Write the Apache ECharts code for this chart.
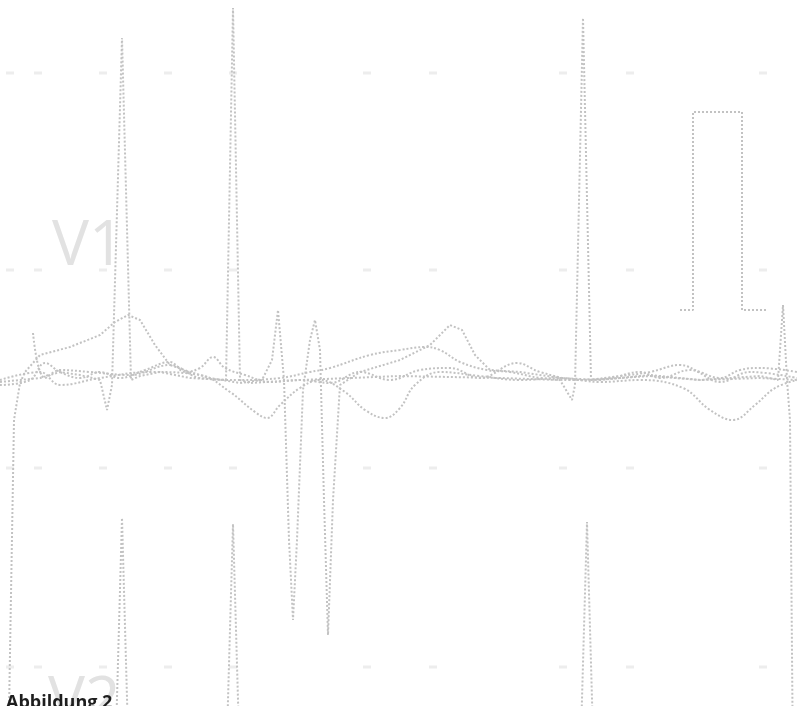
<!DOCTYPE html>
<html>
<head>
<meta charset="utf-8">
<script src="https://cdn.jsdelivr.net/npm/echarts@6/dist/echarts.min.js"></script>
<style>html,body{margin:0;padding:0;background:#fff}#c{width:797px;height:706px}</style>
</head>
<body>
<div id="c"></div>
<script>
// time (samples) vs amplitude (mV)
const leadV1 = [[0,-0.02],[40,0.02],[60,0.08],[80,0.05],[100,0],[107,-0.30],[112,-0.05],[122,3.42],[131,0],[140,0.04],[160,0.08],[190,0.02],[226,0],[233,3.72],[240,0],[250,-0.03],[300,0],[400,0.04],[500,0.02],[560,0],[572,-0.20],[575,-0.05],[583,3.62],[591,0],[650,0.04],[700,0],[760,0.04],[778,0],[783,0.75],[787,0],[790,-0.40],[793,-3.90]];
const calPulse = [[680,0.70],[693,0.70],[693,2.68],[742,2.68],[742,0.70],[768,0.70]];
const leadV2 = [[0,-3.9],[115,-3.9],[122,-1.38],[129,-3.9],[226,-3.9],[233,-1.44],[240,-3.9],[580,-3.9],[587,-1.42],[594,-3.9],[797,-3.9]];
const traceA = [[8,-3.90],[14,-0.40],[20,-0.03],[25,0.08],[40,0.25],[70,0.33],[100,0.45],[115,0.58],[128,0.65],[140,0.60],[155,0.35],[170,0.15],[190,0.08],[210,0.02],[240,-0.03],[262,0],[272,0.20],[278,0.70],[284,0],[289,-1.60],[293,-2.40],[297,-1.60],[303,-0.10],[310,0.40],[315,0.60],[320,0.30],[324,-1.20],[328,-2.55],[333,-1.20],[340,-0.05],[360,0.08],[400,0.20],[430,0.35],[450,0.55],[462,0.50],[475,0.25],[490,0.10],[520,0.08],[560,0.02],[600,0],[650,0.05],[700,0],[760,0.02],[797,0]];
const traceB = [[33,0.47],[45,0.02],[60,0.10],[90,0.08],[130,0.05],[170,0.15],[200,0.02],[240,0],[280,0.02],[310,0.08],[330,0.12],[370,0.25],[400,0.30],[425,0.33],[440,0.30],[460,0.18],[487,0.10],[510,0.08],[540,0.02],[570,0],[610,0.02],[640,0.08],[660,0.02],[690,0.10],[720,-0.02],[750,0.08],[797,0.02]];
const traceC = [[0,0],[40,0.08],[60,-0.05],[100,0.02],[150,0.08],[200,0.05],[230,-0.12],[255,-0.32],[267,-0.38],[280,-0.25],[300,-0.08],[320,0],[345,-0.12],[365,-0.30],[385,-0.38],[400,-0.28],[415,-0.05],[440,0.08],[480,0.04],[520,0],[560,0.02],[600,-0.02],[640,0],[683,-0.08],[710,-0.30],[733,-0.40],[755,-0.25],[775,-0.08],[797,0]];
const traceD = [[0,-0.05],[30,0],[45,0.17],[60,0.08],[80,0.02],[100,0.08],[120,0.02],[145,0.10],[170,0.18],[185,0.08],[200,0.12],[213,0.23],[225,0.12],[245,0.05],[270,-0.02],[300,0],[330,-0.03],[360,0.08],[390,0],[420,0.10],[450,0.12],[480,0.02],[517,0.17],[540,0.08],[580,0],[620,0.04],[650,0.08],[680,0.15],[700,0.08],[720,0.02],[740,0.10],[760,0.12],[797,0.08]];
const markX = [10,38,103,168,233,367,433,563,630,763];
const markY = [3.07,1.10,-0.88,-2.87];
const leadLabels = ['V1','V2'];
const figureTitle = 'Abbildung 2';

const marks = [];
markY.forEach(y => markX.forEach(x => marks.push([x, y])));

const lineStyle = {color:'#c2c2c2', width:2, type:'dotted'};
function line(data, smooth){
  return {type:'line', data, smooth: smooth || false, showSymbol:false, silent:true, lineStyle, clip:true};
}

const chart = echarts.init(document.getElementById('c'), null, {renderer:'canvas'});
chart.setOption({
  backgroundColor:'#ffffff',
  animation:false,
  grid:{left:0,right:0,top:0,bottom:0},
  xAxis:{type:'value',min:0,max:797,show:false},
  yAxis:{type:'value',min:-3.26,max:3.80,show:false},
  graphic:[
    {type:'text', left:52, top:216, style:{text:leadLabels[0], fill:'#e2e2e2', font:'normal 62px "Open Sans"'}, z:0},
    {type:'text', left:48, top:672, style:{text:leadLabels[1], fill:'#e2e2e2', font:'normal 62px "Open Sans"'}, z:0},
    {type:'text', left:6, top:694, style:{text:figureTitle, fill:'#1e1e1e', font:'bold 18px "Open Sans"'}, z:100}
  ],
  series:[
    {type:'scatter', data:marks, symbol:'rect', symbolSize:[8,3], itemStyle:{color:'#e8e8e8'}, silent:true},
    line(leadV1),
    line(calPulse),
    line(leadV2),
    line(traceA),
    line(traceB, 0.4),
    line(traceC, 0.4),
    line(traceD, 0.4)
  ]
});
</script>
</body>
</html>
